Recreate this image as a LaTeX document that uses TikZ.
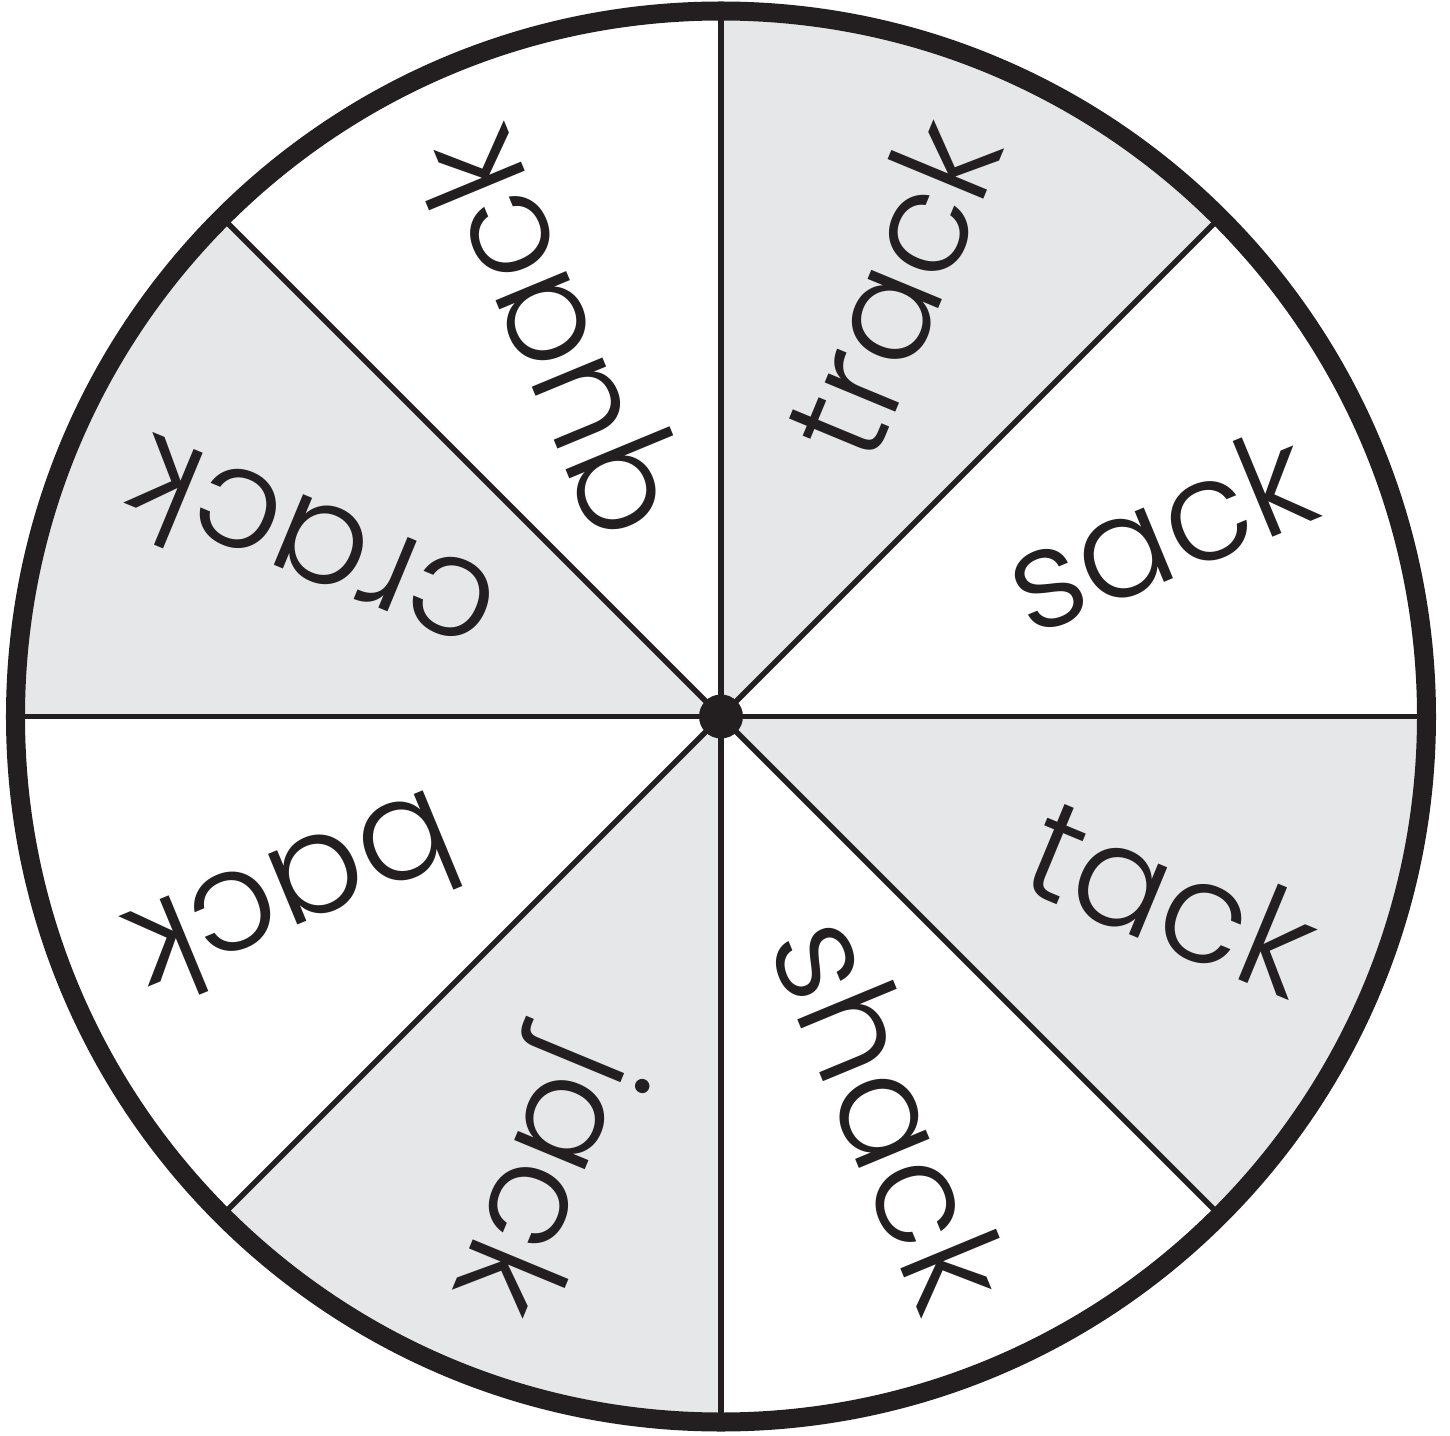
\documentclass[tikz,border=0pt]{standalone}
\usepackage{fontspec}
\setmainfont{Poppins Light}
\usetikzlibrary{calc}
\definecolor{wheelgrey}{RGB}{230,231,232}
\definecolor{ink}{RGB}{35,31,32}
\begin{document}
\begin{tikzpicture}[x=1pt,y=1pt,
  word/.style={font=\fontsize{140}{168}\selectfont, text=ink, inner sep=0pt, anchor=east},
  spoke/.style={draw=ink, line width=5.5pt},
  rim/.style={draw=ink, line width=19pt},
  shade/.style={fill=wheelgrey}]
\useasboundingbox (-721,-718.5) rectangle (729,716.5);
\coordinate (c) at (0,0);
\foreach \a in {45,-45,-135,135}
  \fill[shade] (c) -- (\a:705.5) arc[start angle=\a, delta angle=45, radius=705.5] -- cycle;
\foreach \a in {0,45,...,315}
  \draw[spoke] (c) -- (\a:705.5);
\draw[rim] (c) circle[radius=705.5];
\fill[ink] (c) circle[radius=22];
\foreach \ang/\wrd/\nm in {67.5/track/wtrack, 22.5/sack/wsack, -22.5/tack/wtack, -67.5/shack/wshack,
  -112.5/jack/wjack, -157.5/back/wback, 157.5/crack/wcrack, 112.5/quack/wquack}
  \node[word, rotate=\ang] (\nm) at ($(c)+(\ang:635)+(\ang+90:6)$) {\wrd};
\end{tikzpicture}
\end{document}
